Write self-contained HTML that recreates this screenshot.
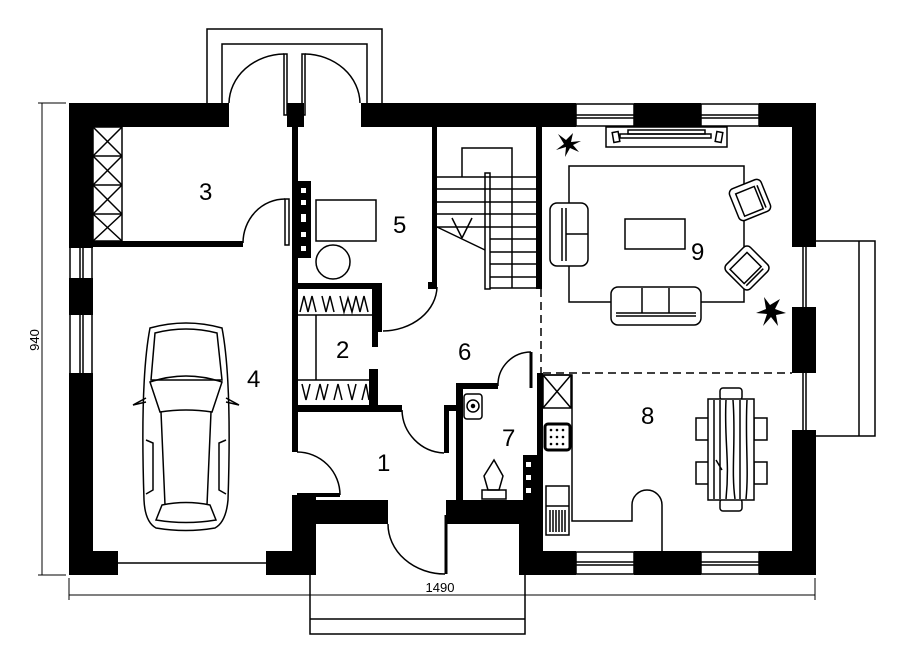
<!DOCTYPE html>
<html><head><meta charset="utf-8"><style>
html,body{margin:0;padding:0;background:#fff;}
svg{display:block;}
text{font-family:"Liberation Sans",sans-serif;fill:#000;}
</style></head><body>
<svg width="907" height="658" viewBox="0 0 907 658" xmlns="http://www.w3.org/2000/svg">
<g fill="#000" stroke="none">
<rect x="69" y="103" width="160" height="24"/>
<rect x="287" y="103" width="17" height="24"/>
<rect x="361" y="103" width="215" height="24"/>
<rect x="634" y="103" width="67" height="24"/>
<rect x="759" y="103" width="57" height="24"/>
<rect x="69" y="103" width="24" height="145"/>
<rect x="69" y="278" width="24" height="37"/>
<rect x="69" y="373" width="24" height="202"/>
<rect x="792" y="103" width="24" height="144"/>
<rect x="792" y="307" width="24" height="66"/>
<rect x="792" y="430" width="24" height="145"/>
<rect x="69" y="551" width="49" height="24"/>
<rect x="266" y="551" width="50" height="24"/>
<rect x="292" y="495" width="24" height="80"/>
<rect x="292" y="500" width="96" height="24"/>
<rect x="446" y="500" width="73" height="24"/>
<rect x="519" y="500" width="24" height="75"/>
<rect x="519" y="551" width="57" height="24"/>
<rect x="634" y="551" width="67" height="24"/>
<rect x="759" y="551" width="57" height="24"/>
<rect x="292" y="127" width="6" height="325"/>
<rect x="93" y="241" width="150" height="6"/>
<rect x="298" y="181" width="13" height="77"/>
<rect x="432" y="127" width="5" height="160"/>
<rect x="428" y="282" width="9" height="7"/>
<rect x="536" y="127" width="6" height="162"/>
<rect x="292" y="283" width="90" height="6"/>
<rect x="372" y="283" width="6" height="64"/>
<rect x="372" y="283" width="10" height="49"/>
<rect x="369" y="369" width="9" height="38"/>
<rect x="292" y="405" width="110" height="7"/>
<rect x="444" y="405" width="19" height="6"/>
<rect x="444" y="405" width="5" height="48"/>
<rect x="456" y="383" width="7" height="117"/>
<rect x="456" y="383" width="42" height="6"/>
<rect x="523" y="455" width="14" height="45"/>
<rect x="537" y="373" width="6" height="180"/>
</g>
<g fill="#fff"><rect x="301" y="188" width="5" height="5"/><rect x="301" y="200" width="5" height="5"/><rect x="301" y="214" width="5" height="8"/><rect x="301" y="232" width="5" height="5"/><rect x="301" y="246" width="5" height="5"/>
<rect x="526" y="462" width="5" height="5"/><rect x="526" y="475" width="5" height="5"/><rect x="526" y="488" width="5" height="5"/></g>
<g fill="none" stroke="#000" stroke-width="1.5">
<rect x="576" y="104" width="58" height="22"/><line x1="576" y1="115" x2="634" y2="115"/><line x1="576" y1="118" x2="634" y2="118"/>
<rect x="701" y="104" width="58" height="22"/><line x1="701" y1="115" x2="759" y2="115"/><line x1="701" y1="118" x2="759" y2="118"/>
<rect x="576" y="552" width="58" height="22"/><line x1="576" y1="562" x2="634" y2="562"/><line x1="576" y1="565" x2="634" y2="565"/>
<rect x="701" y="552" width="58" height="22"/><line x1="701" y1="562" x2="759" y2="562"/><line x1="701" y1="565" x2="759" y2="565"/>
<line x1="80" y1="248" x2="80" y2="278"/><line x1="83" y1="248" x2="83" y2="278"/><line x1="70" y1="248" x2="70" y2="278"/><line x1="92" y1="248" x2="92" y2="278"/>
<line x1="80" y1="315" x2="80" y2="373"/><line x1="83" y1="315" x2="83" y2="373"/><line x1="70" y1="315" x2="70" y2="373"/><line x1="92" y1="315" x2="92" y2="373"/>
<line x1="803" y1="247" x2="803" y2="307"/><line x1="806" y1="247" x2="806" y2="307"/>
<line x1="803" y1="373" x2="803" y2="430"/><line x1="806" y1="373" x2="806" y2="430"/>
<polyline points="207,103 207,29 382,29 382,103"/>
<polyline points="222,103 222,44 367,44 367,103"/>
<rect x="284" y="54" width="3" height="61"/><rect x="302" y="54" width="3" height="61"/>
<path d="M229,103 A56,50 0 0 1 284,54"/><path d="M305,54 A56,50 0 0 1 360,103"/>
<polyline points="816,241 875,241 875,436 816,436"/><line x1="859" y1="241" x2="859" y2="436"/>
<polyline points="310,575 310,634 525,634 525,575"/><line x1="310" y1="619" x2="525" y2="619"/>
<line x1="118" y1="563" x2="266" y2="563"/>
<rect x="93" y="127" width="29" height="114"/>
<line x1="93" y1="156" x2="122" y2="156"/><line x1="93" y1="185" x2="122" y2="185"/><line x1="93" y1="214" x2="122" y2="214"/>
<path d="M93,127 L122,156 M122,127 L93,156 M93,156 L122,185 M122,156 L93,185 M93,185 L122,214 M122,185 L93,214 M93,214 L122,241 M122,214 L93,241"/>
<rect x="285" y="199" width="4" height="46" fill="#fff"/><path d="M243,243 A42,44 0 0 1 285,199"/>
<path d="M437,287 A55,45 0 0 1 383,331"/>
<path d="M402,410 A44,44 0 0 0 444,453"/>
<path d="M498,386 A33,33 0 0 1 531,352"/><line x1="531" y1="352" x2="531" y2="388" stroke-width="3"/>
<path d="M297,452 A43,43 0 0 1 340,495"/><line x1="297" y1="495" x2="340" y2="495" stroke-width="4"/>
<path d="M388,524 A57,50 0 0 0 445,574"/><line x1="446" y1="515" x2="446" y2="574" stroke-width="3"/>
<rect x="316" y="200" width="60" height="41"/><circle cx="333" cy="262" r="17"/>
<line x1="298" y1="315" x2="372" y2="315"/><line x1="298" y1="380" x2="372" y2="380"/><line x1="316" y1="315" x2="316" y2="380"/>
<path d="M300,312 L304,296 L308,312 L312,296 L316,312 M322,296 L326,312 L330,296 L334,312 M340,296 L344,312 L348,298 L352,312 L356,296 L360,312 L364,296 L368,312"/>
<path d="M302,384 L306,400 L310,384 M316,400 L320,384 L324,400 L328,384 M334,400 L338,384 L342,400 M348,384 L352,400 L356,384 M362,400 L366,384 L369,400"/>
<polyline points="462,177 462,148 512,148 512,288"/>
<path d="M437,177 H536 M437,189 H536 M437,202 H536 M437,214 H536 M437,227 H536 M490,239 H536 M490,252 H536 M490,264 H536 M490,277 H536 M490,288 H536"/>
<rect x="485" y="173" width="5" height="116"/>
<path d="M437,227 L485,250 M462,238 L452,218 M462,238 L472,218"/>
<line x1="541" y1="289" x2="541" y2="373" stroke-dasharray="8,5"/>
<line x1="543" y1="373" x2="792" y2="373" stroke-dasharray="8,5"/>
<rect x="606" y="127" width="121" height="20"/><rect x="628" y="130" width="77" height="4"/><rect x="620" y="134" width="91" height="4"/>
<rect x="613" y="132" width="6" height="10" transform="rotate(-10 616 137)"/><rect x="716" y="132" width="6" height="10" transform="rotate(10 719 137)"/>
<rect x="569" y="166" width="175" height="136"/>
<rect x="625" y="219" width="60" height="30"/>
<rect x="550" y="203" width="38" height="63" rx="7" fill="#fff"/><line x1="562" y1="208" x2="562" y2="261"/><line x1="566" y1="208" x2="566" y2="261"/><line x1="566" y1="234" x2="588" y2="234"/>
<rect x="611" y="287" width="90" height="38" rx="7" fill="#fff"/><line x1="616" y1="313" x2="696" y2="313"/><line x1="616" y1="316" x2="696" y2="316"/><line x1="642" y1="288" x2="642" y2="313"/><line x1="669" y1="288" x2="669" y2="313"/>
<g transform="rotate(-22 750 200)"><rect x="733" y="183" width="34" height="34" rx="5" fill="#fff"/><rect x="739" y="189" width="20" height="24"/><line x1="762" y1="189" x2="762" y2="213"/></g>
<g transform="rotate(45 747 268)"><rect x="730" y="251" width="34" height="34" rx="5" fill="#fff"/><rect x="736" y="257" width="20" height="24"/><line x1="759" y1="257" x2="759" y2="281"/></g>
<polyline points="543,375 572,375 572,521 632,521 632,505"/>
<path d="M632,505 A15,15 0 0 1 662,505 L662,551"/>
<rect x="543" y="375" width="28" height="33"/><path d="M543,375 L571,408 M571,375 L543,408"/>
<rect x="545" y="424" width="25" height="26" rx="3" stroke-width="3"/>
<rect x="546" y="486" width="23" height="49"/><line x1="546" y1="506" x2="569" y2="506"/>
<path d="M550,510 V532 M553,510 V532 M556,510 V532 M559,510 V532 M562,510 V532 M565,510 V532"/>
<rect x="720" y="388" width="22" height="12" rx="3"/><rect x="720" y="499" width="22" height="12" rx="3"/>
<rect x="696" y="418" width="13" height="22"/><rect x="696" y="462" width="13" height="22"/>
<rect x="754" y="418" width="13" height="22"/><rect x="754" y="462" width="13" height="22"/>
<rect x="708" y="399" width="46" height="101" fill="#fff"/>
<path d="M714,400 V499 M720,400 V499 M726,400 C724,440 730,460 726,499 M733,400 C736,440 731,470 735,499 M740,400 V499 M747,400 C745,440 749,470 746,499 M716,460 L722,470"/>
<rect x="464" y="394" width="18" height="25" rx="3"/><circle cx="473" cy="406" r="6"/><circle cx="473" cy="406" r="1.5" fill="#000"/>
<rect x="482" y="490" width="24" height="9"/><path d="M488,490 L484,476 L494,460 L503,476 L499,490 Z"/>
<path d="M150,328 Q186,318 222,328 Q232,380 228,500 Q226,522 215,528 Q186,533 156,528 Q145,522 144,500 Q140,380 150,328 Z"/>
<path d="M155,333 Q186,325 217,333 L222,380 L151,380 Z"/>
<path d="M150,382 Q186,370 222,382 L212,412 Q186,408 160,412 Z"/>
<path d="M161,412 L165,505 M211,412 L207,505 M162,505 Q186,500 210,505 L216,520 Q186,525 156,520 Z"/>
<path d="M146,402 L133,405 L146,398 M226,402 L239,405 L226,398"/>
<path d="M146,440 L153,443 L153,490 L146,494 M226,440 L219,443 L219,490 L226,494"/>
<line x1="42" y1="103" x2="42" y2="575" stroke-width="1"/>
<line x1="38" y1="103" x2="66" y2="103" stroke-width="1"/><line x1="38" y1="575" x2="66" y2="575" stroke-width="1"/>
<line x1="69" y1="595" x2="815" y2="595" stroke-width="1"/>
<line x1="69" y1="578" x2="69" y2="600" stroke-width="1"/><line x1="815" y1="578" x2="815" y2="600" stroke-width="1"/>
</g>
<g fill="#000">
<circle cx="551" cy="430" r="1.3"/><circle cx="557" cy="430" r="1.3"/><circle cx="563" cy="430" r="1.3"/>
<circle cx="551" cy="437" r="1.3"/><circle cx="557" cy="437" r="1.3"/><circle cx="563" cy="437" r="1.3"/>
<circle cx="551" cy="444" r="1.3"/><circle cx="557" cy="444" r="1.3"/><circle cx="563" cy="444" r="1.3"/>
<path d="M566,140 l-8,-6 l6,10 l-8,6 l10,-3 l-1,10 l5,-9 l9,4 l-6,-7 l8,-4 l-10,1 l2,-9 z"/>
<path d="M770,305 l-6,-8 l2,12 l-10,4 l11,1 l-4,12 l8,-9 l7,9 l-2,-11 l10,-2 l-11,-4 l5,-10 z"/>
</g>
<g font-size="24">
<text x="199" y="200">3</text><text x="393" y="233">5</text><text x="336" y="358">2</text>
<text x="247" y="387">4</text><text x="458" y="360">6</text><text x="377" y="471">1</text>
<text x="502" y="446">7</text><text x="641" y="424">8</text><text x="691" y="260">9</text>
</g>
<text x="440" y="592" font-size="13" text-anchor="middle">1490</text>
<text x="0" y="0" font-size="13" text-anchor="middle" transform="translate(39,340) rotate(-90)">940</text>
</svg>
</body></html>
